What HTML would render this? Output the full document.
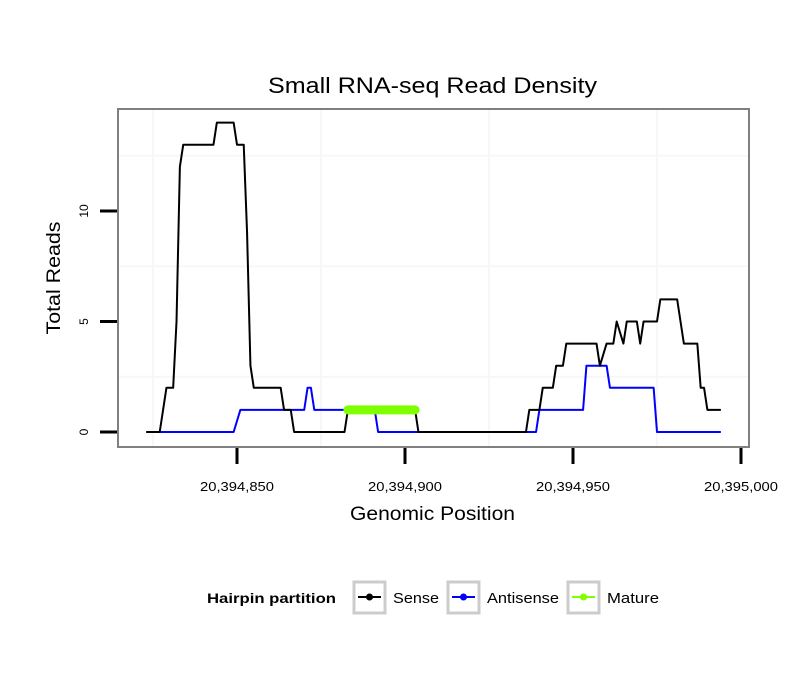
<!DOCTYPE html>
<html><head><meta charset="utf-8"><style>
body{margin:0;background:#fff}
svg{display:block;font-family:"Liberation Sans",sans-serif}
</style></head><body>
<svg id="chart" width="810" height="690">
<text x="432.5" y="93" text-anchor="middle" font-size="22" textLength="329" lengthAdjust="spacingAndGlyphs">Small RNA-seq Read Density</text>
<g id="grid"></g>
<g id="series"></g>
<rect x="118" y="109" width="631" height="338" fill="none" stroke="#808080" stroke-width="2"/>
<g id="axes"></g>
<text x="432.5" y="520" text-anchor="middle" font-size="19" textLength="165" lengthAdjust="spacingAndGlyphs">Genomic Position</text>
<text transform="translate(60,278) rotate(-90)" text-anchor="middle" font-size="19" textLength="113" lengthAdjust="spacingAndGlyphs">Total Reads</text>
<g>
<text x="207" y="603" font-size="14" font-weight="bold" textLength="129" lengthAdjust="spacingAndGlyphs">Hairpin partition</text>
<g>
<rect x="354" y="582" width="31" height="31" fill="#fff" stroke="#ccc" stroke-width="3"/>
<line x1="358" y1="597" x2="381" y2="597" stroke="#000" stroke-width="2"/><circle cx="369.5" cy="597" r="3.5" fill="#000"/>
<text x="393" y="603" font-size="15" textLength="46" lengthAdjust="spacingAndGlyphs">Sense</text></g>
<g>
<rect x="448" y="582" width="31" height="31" fill="#fff" stroke="#ccc" stroke-width="3"/>
<line x1="452" y1="597" x2="475" y2="597" stroke="#00f" stroke-width="2"/><circle cx="463.5" cy="597" r="3.5" fill="#00f"/>
<text x="487" y="603" font-size="15" textLength="72" lengthAdjust="spacingAndGlyphs">Antisense</text></g>
<g>
<rect x="568" y="582" width="31" height="31" fill="#fff" stroke="#ccc" stroke-width="3"/>
<line x1="572" y1="597" x2="595" y2="597" stroke="#7fff00" stroke-width="2"/><circle cx="583.5" cy="597" r="3.5" fill="#7fff00"/>
<text x="607" y="603" font-size="15" textLength="52" lengthAdjust="spacingAndGlyphs">Mature</text></g>
</g>
</svg>
<script>
const senseOffset = [823,827,829,831,832,833,834,843,844,849,850,852,853,854,855,863,864,866,867,882,883,903,904,936,937,940,941,944,945,947,948,957,958,960,962,963,965,966,969,970,971,975,976,981,983,987,988,989,990,994];
const senseReads  = [0,0,2,2,5,12,13,13,14,14,13,13,9,3,2,2,1,1,0,0,1,1,0,0,1,1,2,2,3,3,4,4,3,4,4,5,4,5,5,4,5,5,6,6,4,4,2,2,1,1];
const antiOffset = [823,849,851,870,871,872,873,891,892,939,940,953,954,960,961,974,975,994];
const antiReads  = [0,0,1,1,2,2,1,1,0,0,1,1,3,3,2,2,0,0];
const matureOffset = [883,903];
const matureReads  = [1,1];
const xTicks = [20394850,20394900,20394950,20395000];
const xTickLabels = ["20,394,850","20,394,900","20,394,950","20,395,000"];
const yTicks = [0,5,10];
const base = 20394000;
const NS='http://www.w3.org/2000/svg';
function xs(p){return 237+(p-850)*3.36;}
function ys(v){return 432-v*22.1;}
function mk(tag,attrs,parent){const e=document.createElementNS(NS,tag);for(const k in attrs)e.setAttribute(k,attrs[k]);parent.appendChild(e);return e;}
const grid=document.getElementById('grid');
[825,875,925,975].forEach(p=>{const l=mk('line',{x1:xs(p),x2:xs(p),y1:110,y2:446,stroke:'#f7f7f7','stroke-width':2},grid);

});
[2.5,7.5,12.5].forEach(v=>{const l=mk('line',{x1:119,x2:748,y1:ys(v),y2:ys(v),stroke:'#f7f7f7','stroke-width':2},grid);

});
const series=document.getElementById('series');
function line(xsA,ysA,color,w,name){const pts=xsA.map((p,i)=>xs(p)+','+ys(ysA[i])).join(' ');
const pl=mk('polyline',{points:pts,fill:'none',stroke:color,'stroke-width':w,'stroke-linecap':w>3?'round':'butt','stroke-linejoin':'round'},series);

}
line(antiOffset,antiReads,'#0000ff',2,'antisense-line');
line(senseOffset,senseReads,'#000000',2,'sense-line');
line(matureOffset,matureReads,'#7fff00',9,'mature-line');
const axes=document.getElementById('axes');
xTicks.forEach((t,i)=>{const x=xs(t-base);
const tk=mk('line',{x1:x,x2:x,y1:448,y2:464,stroke:'#000','stroke-width':3},axes);


const tx=mk('text',{x:x,y:491,'text-anchor':'middle','font-size':13,textLength:74,lengthAdjust:'spacingAndGlyphs'},axes);tx.textContent=xTickLabels[i];

});
yTicks.forEach(t=>{const y=ys(t);
const tk=mk('line',{x1:100,x2:117,y1:y,y2:y,stroke:'#000','stroke-width':3},axes);


const tx=mk('text',{transform:`translate(88,${y}) rotate(-90)`,'text-anchor':'middle','font-size':12},axes);tx.textContent=t;

});
</script>
</body></html>
